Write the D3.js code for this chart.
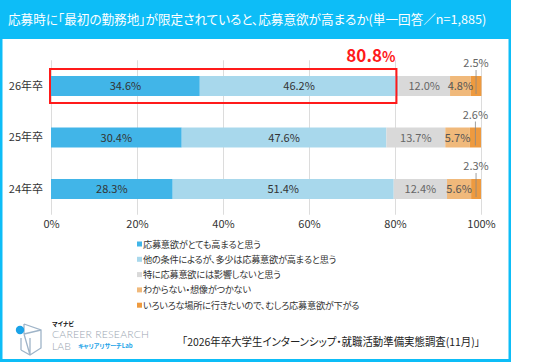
<!DOCTYPE html>
<html>
<head>
<meta charset="utf-8">
<script src="https://cdn.jsdelivr.net/npm/d3@7"></script>
<style>
    body { margin: 0; background: #fff; }
    svg { display: block; font-family: "Noto Sans CJK JP", "Noto Sans", sans-serif; font-feature-settings: "palt"; }
</style>
</head>
<body>
<svg id="chart" width="536" height="363"></svg>
<script>

// Chart values
let years = ["26年卒", "25年卒", "24年卒"];
let answers = [
    "応募意欲がとても高まると思う",
    "他の条件によるが、多少は応募意欲が高まると思う",
    "特に応募意欲には影響しないと思う",
    "わからない・想像がつかない",
    "いろいろな場所に行きたいので、むしろ応募意欲が下がる"
];
let values26 = [34.6, 46.2, 12.0, 4.8, 2.5];
let values25 = [30.4, 47.6, 13.7, 5.7, 2.6];
let values24 = [28.3, 51.4, 12.4, 5.6, 2.3];
let xTicks = [0, 20, 40, 60, 80, 100];

let colours = ["#41b5e8", "#a8d8ec", "#d9d9d9", "#f0b97b", "#ee9a3f"];
let labelColours = ["#333", "#333", "#666", "#555", "#666"];

let svg = d3.select("#chart");

// Frame and title bar
svg.append("rect")
    .attr("x", 0).attr("y", 0)
    .attr("width", 511).attr("height", 362)
    .attr("fill", "#0dbdf7");
svg.append("rect")
    .attr("x", 2.5).attr("y", 39)
    .attr("width", 506).attr("height", 320)
    .attr("fill", "#fff");

svg.append("text")
    .attr("x", 8).attr("y", 24)
    .attr("fill", "#fff")
    .style("font-size", "12.6px")
    .text("応募時に「最初の勤務地」が限定されていると、応募意欲が高まるか(単一回答／n=1,885)");

let rows = years.map(function (year, i) {
    return {year: year, values: [values26, values25, values24][i]};
});

let x = d3.scaleLinear()
    .domain([0, 100])
    .range([51, 481]);

let y = d3.scaleBand()
    .domain(years)
    .range([60.25, 214.75])
    .paddingInner(0.612)
    .paddingOuter(0.306);

// Vertical grid lines
svg.append("g")
    .attr("transform", "translate(0,214.75)")
    .call(d3.axisBottom(x).tickValues(xTicks).tickSize(-154.5).tickFormat(""))
    .call(g => g.select(".domain").remove())
    .call(g => g.selectAll("line").attr("stroke", "#dcdcdc"));

// x axis labels
svg.append("g")
    .attr("transform", "translate(0,214)")
    .call(d3.axisBottom(x).tickValues(xTicks).tickSize(0).tickPadding(6)
        .tickFormat(d => d + "%"))
    .call(g => g.select(".domain").remove())
    .call(g => g.selectAll("text")
        .attr("fill", "#333")
        .style("font-size", "11px")
        .style("font-family", "'Noto Sans CJK JP'"));

// y axis labels
svg.append("g")
    .attr("transform", "translate(51,0)")
    .call(d3.axisLeft(y).tickSize(0).tickPadding(8))
    .call(g => g.select(".domain").remove())
    .call(g => g.selectAll("text")
        .attr("fill", "#333")
        .style("font-size", "11px")
        .style("font-family", "'Noto Sans CJK JP'"));

// Stacked segments
rows.forEach(function (row) {
    let start = 0;
    let segments = row.values.map(function (v, i) {
        let s = {value: v, start: start, index: i};
        start += v;
        return s;
    });

    let g = svg.append("g");
    g.selectAll("rect")
        .data(segments)
        .enter()
        .append("rect")
        .attr("x", d => x(d.start))
        .attr("y", y(row.year))
        .attr("width", d => x(d.start + d.value) - x(d.start))
        .attr("height", y.bandwidth())
        .attr("fill", d => colours[d.index]);

    let cy = y(row.year) + y.bandwidth() / 2;

    // labels inside the bar
    g.selectAll("text.inside")
        .data(segments.filter(d => d.value >= 3))
        .enter()
        .append("text")
        .attr("class", "inside")
        .attr("x", d => x(d.start + d.value / 2))
        .attr("y", cy + 4)
        .attr("text-anchor", "middle")
        .attr("fill", d => labelColours[d.index])
        .style("font-size", "11px")
        .text(d => d.value.toFixed(1) + "%");

    // small segments get a label above with a leader line
    segments.filter(d => d.value < 3).forEach(function (d) {
        let cx = x(d.start + d.value / 2);
        g.append("line")
            .attr("x1", cx).attr("x2", cx)
            .attr("y1", y(row.year) - 6)
            .attr("y2", y(row.year) + y.bandwidth() - 2)
            .attr("stroke", "#888")
            .attr("stroke-width", 0.8);
        g.append("text")
            .attr("x", cx)
            .attr("y", y(row.year) - 9)
            .attr("text-anchor", "middle")
            .attr("fill", "#666")
            .style("font-size", "11px")
            .text(d.value.toFixed(1) + "%");
    });
});

// Highlight box for 26年卒 positive answers
let positive = values26[0] + values26[1];
svg.append("rect")
    .attr("x", x(0) - 1)
    .attr("y", y("26年卒") - 7)
    .attr("width", x(positive) - x(0) - 1)
    .attr("height", y.bandwidth() + 14)
    .attr("fill", "none")
    .attr("stroke", "#ff1a1a")
    .attr("stroke-width", 2);

let total = svg.append("text")
    .attr("x", x(positive) - 3)
    .attr("y", y("26年卒") - 14)
    .attr("text-anchor", "end")
    .attr("fill", "#ff1a1a")
    .style("font-weight", "bold");
total.append("tspan").style("font-size", "17px").text(positive.toFixed(1));
total.append("tspan").style("font-size", "14px").text("%");

// Legend
let legend = svg.append("g")
    .selectAll("g")
    .data(answers)
    .enter()
    .append("g")
    .attr("transform", (d, i) => "translate(137," + (244 + i * 15.3) + ")");

legend.append("rect")
    .attr("x", 0).attr("y", -2.5)
    .attr("width", 5).attr("height", 5)
    .attr("fill", (d, i) => colours[i]);

legend.append("text")
    .attr("x", 6).attr("y", 3.5)
    .attr("fill", "#333")
    .style("font-size", "9.2px")
    .style("letter-spacing", "-0.25px")
    .text(d => d);

// Source note
svg.append("text")
    .attr("x", 182).attr("y", 346)
    .attr("fill", "#222")
    .style("font-size", "11px")
    .attr("textLength", 298)
    .attr("lengthAdjust", "spacingAndGlyphs")
    .text("「2026年卒大学生インターンシップ・就職活動準備実態調査(11月)」");

// Logo
let logo = svg.append("g");
logo.append("path")
    .attr("d", "M24,324 L41,330 L41,348 L30,355 L21,350 M24,324 L24,334 M24,334 L41,330 M24,334 L30,355 M30,355 L30,338 M21,350 L21,338")
    .attr("fill", "none")
    .attr("stroke", "#9fb4c8")
    .attr("stroke-width", 1.3);
logo.append("circle")
    .attr("cx", 20).attr("cy", 330).attr("r", 4.2)
    .attr("fill", "#1aa3e8");
logo.append("text")
    .attr("x", 52).attr("y", 326)
    .attr("fill", "#111")
    .style("font-size", "6px")
    .style("font-weight", "bold")
    .text("マイナビ");
logo.append("text")
    .attr("x", 52).attr("y", 338)
    .attr("fill", "#9aa6b2")
    .style("font-size", "10.5px")
    .style("font-family", "Lato, sans-serif")
    .style("font-weight", "300")
    .attr("textLength", 97)
    .text("CAREER RESEARCH");
logo.append("text")
    .attr("x", 52).attr("y", 350)
    .attr("fill", "#9aa6b2")
    .style("font-size", "10.5px")
    .style("font-family", "Lato, sans-serif")
    .style("font-weight", "300")
    .text("LAB");
logo.append("text")
    .attr("x", 78).attr("y", 348)
    .attr("fill", "#1aa3e8")
    .style("font-size", "6px")
    .style("font-weight", "bold")
    .text("キャリアリサーチLab");

</script>
</body>
</html>
